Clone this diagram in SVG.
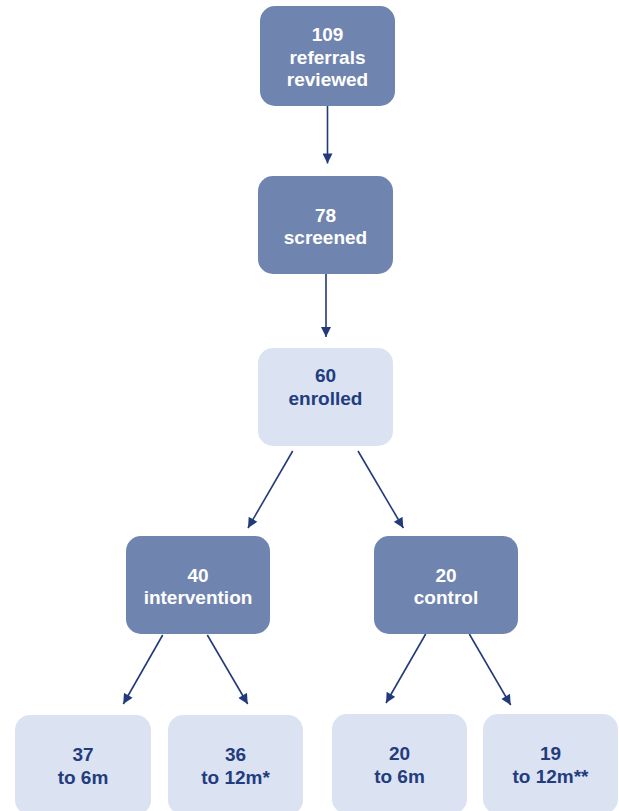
<svg xmlns="http://www.w3.org/2000/svg" width="619" height="811" viewBox="0 0 619 811">
  <style>
    .dark rect { fill: #7084b0; }
    .light rect { fill: #dbe3f3; }
    text { font-family: "Liberation Sans", Arial, sans-serif; font-weight: bold; font-size: 19px; text-anchor: middle; }
    .dark text { fill: #ffffff; }
    .light text { fill: #233c7e; }
    .conn line { stroke: #223a7c; stroke-width: 1.6; marker-end: url(#arrow); }
  </style>
  <defs>
    <marker id="arrow" viewBox="0 0 10 10" refX="10" refY="5" markerWidth="11" markerHeight="10" markerUnits="userSpaceOnUse" orient="auto">
      <path d="M0,0 L10,5 L0,10 z" fill="#223a7c"/>
    </marker>
  </defs>
  <rect width="619" height="811" fill="#ffffff"/>

  <g class="conn" id="connectors">
    <line x1="327.5" y1="106" x2="327.5" y2="163.5"/>
    <line x1="326" y1="274" x2="326" y2="337"/>
    <line x1="292.7" y1="451" x2="248" y2="528"/>
    <line x1="358" y1="451" x2="403.3" y2="528"/>
    <line x1="162.7" y1="635" x2="123.3" y2="704"/>
    <line x1="207.3" y1="635" x2="247.7" y2="704"/>
    <line x1="425.7" y1="634" x2="386" y2="703"/>
    <line x1="469.3" y1="634" x2="510.7" y2="705"/>
  </g>

  <g id="n-referrals" class="dark">
    <rect x="260" y="6" width="135" height="100" rx="15"/>
    <text x="327.5" y="41">109</text>
    <text x="327.5" y="63.5">referrals</text>
    <text x="327.5" y="86">reviewed</text>
  </g>
  <g id="n-screened" class="dark">
    <rect x="258" y="176" width="135" height="98" rx="15"/>
    <text x="325.5" y="221.5">78</text>
    <text x="325.5" y="244">screened</text>
  </g>
  <g id="n-enrolled" class="light">
    <rect x="258" y="348" width="135" height="98" rx="15"/>
    <text x="325.5" y="382">60</text>
    <text x="325.5" y="404.5">enrolled</text>
  </g>
  <g id="n-intervention" class="dark">
    <rect x="126" y="536" width="144" height="98" rx="15"/>
    <text x="198" y="581.5">40</text>
    <text x="198" y="604">intervention</text>
  </g>
  <g id="n-control" class="dark">
    <rect x="374" y="536" width="144" height="98" rx="15"/>
    <text x="446" y="581.5">20</text>
    <text x="446" y="604">control</text>
  </g>
  <g id="n-int-6m" class="light">
    <rect x="15" y="715" width="136" height="100" rx="15"/>
    <text x="83" y="760.5">37</text>
    <text x="83" y="783.5">to 6m</text>
  </g>
  <g id="n-int-12m" class="light">
    <rect x="168" y="715" width="135" height="100" rx="15"/>
    <text x="235.5" y="760.5">36</text>
    <text x="235.5" y="783.5">to 12m*</text>
  </g>
  <g id="n-ctl-6m" class="light">
    <rect x="332" y="714" width="135" height="100" rx="15"/>
    <text x="399.5" y="759.5">20</text>
    <text x="399.5" y="782.5">to 6m</text>
  </g>
  <g id="n-ctl-12m" class="light">
    <rect x="483" y="714" width="135" height="100" rx="15"/>
    <text x="550.5" y="759.5">19</text>
    <text x="550.5" y="782.5">to 12m**</text>
  </g>
</svg>
